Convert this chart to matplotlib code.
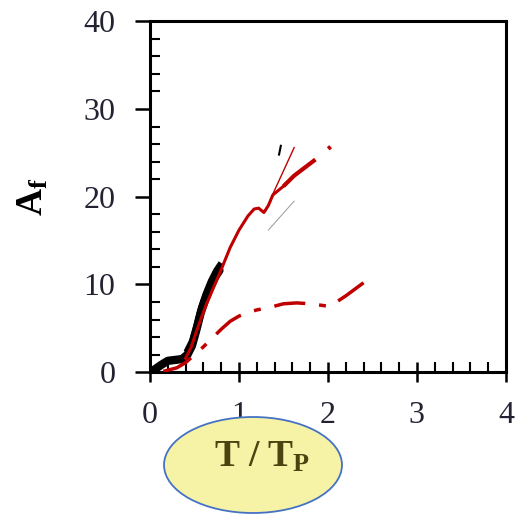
import matplotlib
matplotlib.use("Agg")
import matplotlib.pyplot as plt
from matplotlib.patches import Ellipse
from matplotlib.ticker import MultipleLocator

plt.rcParams['mathtext.fontset'] = 'custom'
plt.rcParams['mathtext.rm'] = 'Liberation Serif'
plt.rcParams['mathtext.it'] = 'Liberation Serif:italic'
plt.rcParams['mathtext.bf'] = 'Liberation Serif:bold'

black_x = [0.0, 0.05, 0.12, 0.2, 0.28, 0.36, 0.42, 0.47, 0.52, 0.57, 0.62, 0.68, 0.74, 0.78]
black_y = [0.1, 0.3, 0.8, 1.3, 1.4, 1.5, 2.0, 3.0, 4.8, 6.8, 8.3, 9.8, 11.0, 11.6]

red_x = [0.4, 0.46, 0.52, 0.58, 0.64, 0.72, 0.8, 0.9, 1.0, 1.1, 1.17, 1.22, 1.28, 1.33, 1.38, 1.44, 1.5]
red_y = [1.6, 2.8, 4.6, 6.3, 7.9, 9.8, 11.7, 14.2, 16.2, 17.8, 18.6, 18.7, 18.2, 19.0, 20.2, 20.7, 21.2]

thin_x = [1.38, 1.62]
thin_y = [20.3, 25.6]

upper_x = [1.5, 1.62, 1.75, 1.88, 2.03]
upper_y = [21.2, 22.4, 23.4, 24.4, 25.7]

lower_x = [0.15, 0.3, 0.4, 0.5, 0.6, 0.7, 0.8, 0.9, 1.0, 1.1, 1.2, 1.35, 1.5, 1.65, 1.8, 2.02, 2.2, 2.4]
lower_y = [0.1, 0.5, 1.1, 2.0, 2.9, 3.9, 4.9, 5.8, 6.4, 6.8, 7.1, 7.4, 7.8, 7.9, 7.8, 7.5, 8.7, 10.2]

gray_x = [1.33, 1.62]
gray_y = [16.2, 19.5]

red = '#c00000'
txt = '#222233'

fig = plt.figure(figsize=(5.21, 5.17), dpi=100)
ax = fig.add_axes([0.288, 0.280, 0.683, 0.679])

ax.plot(black_x, black_y, color='black', lw=6, solid_capstyle='round', zorder=3)
ax.plot(black_x[6:], [v + 0.6 for v in black_y[6:]], color='black', lw=4, zorder=3)
ax.plot(red_x, red_y, color=red, lw=2.2, zorder=4)
ax.plot(thin_x, thin_y, color=red, lw=1.0, zorder=4)
ax.plot(gray_x, gray_y, color='#999999', lw=0.7, zorder=2)
ax.plot([1.45, 1.47], [24.8, 25.8], color='black', lw=1.5)
ax.plot(upper_x, upper_y, color=red, lw=3, dashes=(10, 4, 2, 4), zorder=4)
ax.plot(lower_x, lower_y, color=red, lw=2.5, dashes=(9, 4, 2, 4), zorder=4)

ax.set_xlim(0, 4)
ax.set_ylim(0, 40)
ax.xaxis.set_major_locator(MultipleLocator(1))
ax.xaxis.set_minor_locator(MultipleLocator(0.2))
ax.yaxis.set_major_locator(MultipleLocator(10))
ax.yaxis.set_minor_locator(MultipleLocator(2))

for s in ax.spines.values():
    s.set_linewidth(2.2)

ax.tick_params(axis='x', which='major', direction='inout', length=14, width=1.8, pad=14)
ax.tick_params(axis='x', which='minor', direction='in', length=7, width=1.5)
ax.tick_params(axis='y', which='major', direction='out', length=11, width=1.8, pad=14)
ax.tick_params(axis='y', which='minor', direction='in', length=7, width=1.5)

for lab in ax.get_xticklabels() + ax.get_yticklabels():
    lab.set_fontfamily('Liberation Serif')
    lab.set_fontsize(23)
    lab.set_color(txt)

ax.set_ylabel(r'$\mathbf{A}_\mathbf{f}$', fontsize=27, color='black')
ax.yaxis.set_label_coords(-0.28, 0.5)

ell = Ellipse((253 / 521, 1 - 465 / 517), 178 / 521, 96 / 517,
              transform=fig.transFigure, facecolor='#f6f2a6', edgecolor='#4472c4',
              lw=1.3, zorder=5)
fig.add_artist(ell)
fig.text(262 / 521, 1 - 457 / 517, r'$\mathbf{T\ /\ T_P}$', fontsize=27, color='#4a4410',
         ha='center', va='center', zorder=6)

fig.savefig('out.png', dpi=100)
